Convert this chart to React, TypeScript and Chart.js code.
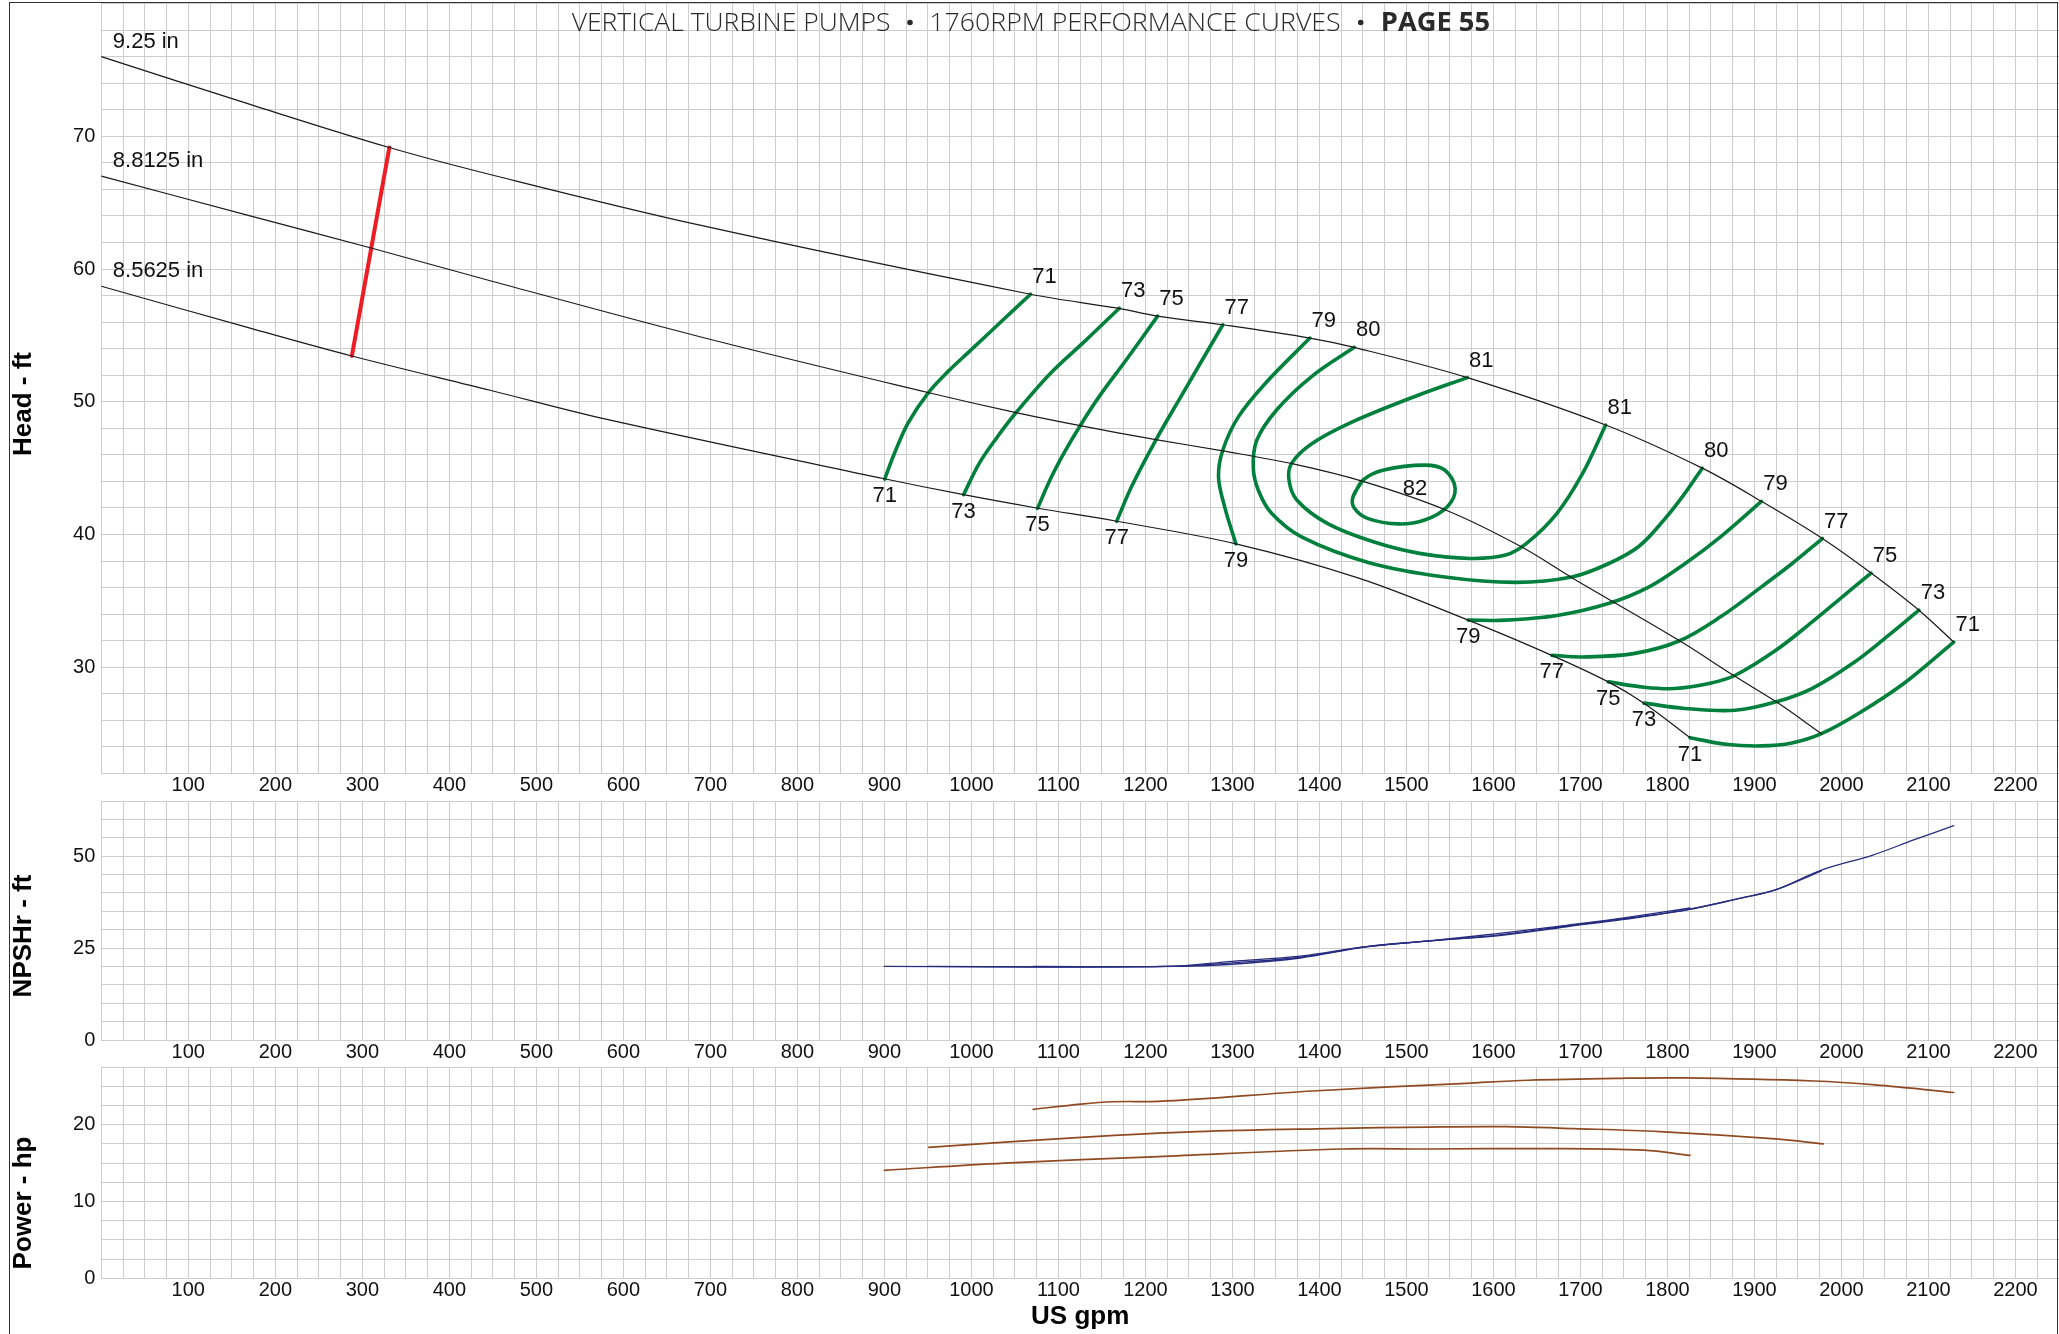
import React, { useEffect, useRef } from 'react';
import { Chart, registerables } from 'chart.js';

Chart.register(...registerables);

// ---------------- data ----------------
// impeller head curves (US gpm -> ft)
const imp925Gpm = [0, 171, 331, 448, 688, 1068, 1168, 1214, 1289, 1389, 1440, 1570, 1729, 1840, 1908, 1978, 2034, 2089, 2129];
const imp925Head = [76.0, 72.4, 69.15, 67.1, 63.3, 58.1, 57.05, 56.45, 55.8, 54.8, 54.1, 51.82, 48.25, 45.0, 42.5, 39.7, 37.1, 34.3, 31.9];
const imp88125Gpm = [0, 171, 310, 448, 688, 950, 1050, 1125, 1212, 1289, 1371, 1450, 1545, 1630, 1694, 1814, 1878, 1925, 1977];
const imp88125Head = [67.0, 64.0, 61.58, 59.1, 54.9, 50.7, 49.2, 48.2, 47.15, 46.3, 45.3, 44.0, 41.85, 39.15, 36.6, 32.0, 29.3, 27.4, 25.0];
const imp85625Gpm = [0, 171, 288, 448, 576, 900, 991, 1075, 1167, 1304, 1446, 1571, 1667, 1732, 1773, 1826];
const imp85625Head = [58.7, 55.55, 53.45, 50.85, 48.75, 44.2, 43.0, 42.0, 41.0, 39.3, 36.7, 33.55, 30.9, 28.9, 27.3, 24.7];
const impellerNames = ['9.25 in', '8.8125 in', '8.5625 in'];

// minimum flow line
const minFlowGpm = [331, 288];
const minFlowHead = [69.15, 53.45];

// iso-efficiency curves
const eff71LGpm = [900.4, 911.6, 927, 950, 973, 999, 1035, 1068];
const eff71LHead = [44.18, 46.12, 48.38, 50.64, 52.27, 53.87, 56.08, 58.1];
const eff73LGpm = [991, 1009, 1030, 1050, 1091, 1132, 1170];
const eff73LHead = [43.0, 45.36, 47.37, 49.08, 52.15, 54.66, 57.05];
const eff75LGpm = [1076, 1091, 1107, 1125, 1148, 1178.5, 1214];
const eff75LHead = [41.97, 44.2, 46.2, 48.2, 50.5, 53.2, 56.45];
const eff77LGpm = [1167, 1184, 1212, 1240, 1289];
const eff77LHead = [41.0, 43.6, 47.12, 50.3, 55.8];
const eff79LGpm = [1304, 1291, 1284, 1289, 1307, 1338, 1389];
const eff79LHead = [39.3, 42.1, 44.35, 46.37, 48.88, 51.4, 54.8];
const eff80Gpm = [1440, 1391, 1351, 1328, 1324, 1330, 1345, 1380, 1456, 1544, 1626, 1690, 1732, 1767, 1796, 1820, 1840];
const eff80Head = [54.1, 51.9, 49.4, 47.1, 45.0, 43.3, 41.6, 39.8, 37.9, 36.8, 36.4, 36.8, 37.8, 39.1, 41.1, 43.1, 45.0];
const eff81Gpm = [1570, 1509, 1438.5, 1392, 1368, 1365, 1374, 1409, 1462, 1515, 1573, 1614, 1638, 1673, 1702.5, 1729];
const eff81Head = [51.82, 50.38, 48.5, 46.87, 45.36, 44.1, 42.6, 40.84, 39.45, 38.58, 38.2, 38.45, 39.33, 41.6, 44.6, 48.25];
// closed loop: read points once round, then the first two again so the outline closes smoothly
const eff82Gpm = [1438.6, 1450, 1474, 1521, 1544, 1556, 1547, 1521, 1491, 1456, 1440, 1438.6, 1450];
const eff82Head = [42.85, 44.1, 44.86, 45.23, 44.86, 43.48, 42.1, 41.1, 40.8, 41.2, 42.0, 42.85, 44.1];
const eff79RGpm = [1571, 1614, 1673, 1732, 1779, 1820, 1861, 1908];
const eff79RHead = [33.55, 33.55, 33.9, 34.8, 36.06, 37.8, 39.83, 42.5];
const eff77RGpm = [1667, 1702.5, 1761, 1814, 1861, 1908, 1943, 1978];
const eff77RHead = [30.9, 30.78, 31.03, 32.0, 33.8, 36.06, 37.8, 39.7];
const eff75RGpm = [1732, 1773, 1808, 1849, 1878, 1925, 1966, 2001, 2034];
const eff75RHead = [28.9, 28.5, 28.4, 28.8, 29.4, 31.3, 33.4, 35.3, 37.1];
const eff73RGpm = [1773, 1820, 1878, 1925, 1966, 2013, 2054, 2089];
const eff73RHead = [27.3, 26.9, 26.76, 27.4, 28.4, 30.3, 32.4, 34.3];
const eff71RGpm = [1826, 1867, 1908, 1943, 1977, 2019, 2072, 2129];
const eff71RHead = [24.7, 24.2, 24.08, 24.3, 25.0, 26.5, 28.8, 31.9];

// NPSHr curves (ft)
const npsh85625Gpm = [900, 1224, 1300, 1378, 1454, 1531, 1607, 1684, 1750, 1826];
const npsh85625Val = [20, 20, 21.4, 22.8, 25.4, 27.1, 29.0, 31.2, 33.2, 35.9];
const npsh88125Gpm = [950, 1224, 1300, 1378, 1454, 1531, 1607, 1684, 1750, 1822, 1883, 1924, 1977];
const npsh88125Val = [20, 20, 21.0, 22.5, 25.4, 27.0, 28.6, 31.0, 33.0, 35.4, 38.5, 40.8, 46.0];
const npsh925Gpm = [1071, 1235, 1300, 1378, 1454, 1531, 1607, 1684, 1750, 1822, 1883, 1924, 1977, 2036, 2083, 2129];
const npsh925Val = [20, 20, 20.6, 22.3, 25.3, 27.0, 28.4, 30.8, 32.8, 35.4, 38.5, 40.8, 46.2, 50.3, 54.4, 58.3];

// Power curves (hp)
const pow925Gpm = [1071, 1126, 1162, 1215, 1268, 1392, 1569, 1640, 1746, 1817, 1968, 2039, 2129];
const pow925Val = [22.0, 22.7, 23.0, 23.05, 23.4, 24.4, 25.4, 25.8, 26.05, 26.1, 25.7, 25.2, 24.2];
const pow88125Gpm = [951, 1126, 1259, 1411, 1525, 1614, 1693, 1791, 1924, 1979];
const pow88125Val = [17.06, 18.36, 19.1, 19.5, 19.7, 19.75, 19.5, 19.1, 18.15, 17.5];
const pow85625Gpm = [900, 1038, 1215, 1427, 1525, 1658, 1773, 1826];
const pow85625Val = [14.06, 15.0, 15.85, 16.84, 16.84, 16.9, 16.7, 16.0];

const titleParts = ['VERTICAL TURBINE PUMPS', '1760RPM PERFORMANCE CURVES', 'PAGE 55'];
const xAxisTitle = 'US gpm';
const headTitle = 'Head - ft';
const npshTitle = 'NPSHr - ft';
const powerTitle = 'Power - hp';

// ---------------- style / layout ----------------
const W = 2059;
const H = 1334;
const PLOT_LEFT = 101.3;
const FONT = "'Liberation Sans', Arial, Helvetica, sans-serif";
const GRID = '#cdcdcd';
const GREEN = '#00803c';

const pts = (xs: number[], ys: number[]) => xs.map((x, i) => ({ x, y: ys[i] }));

const effCurves = [
  { label: '71', gpm: eff71LGpm, head: eff71LHead },
  { label: '73', gpm: eff73LGpm, head: eff73LHead },
  { label: '75', gpm: eff75LGpm, head: eff75LHead },
  { label: '77', gpm: eff77LGpm, head: eff77LHead },
  { label: '79', gpm: eff79LGpm, head: eff79LHead },
  { label: '80', gpm: eff80Gpm, head: eff80Head },
  { label: '81', gpm: eff81Gpm, head: eff81Head },
  { label: '82', gpm: eff82Gpm, head: eff82Head, loop: true },
  { label: '79', gpm: eff79RGpm, head: eff79RHead },
  { label: '77', gpm: eff77RGpm, head: eff77RHead },
  { label: '75', gpm: eff75RGpm, head: eff75RHead },
  { label: '73', gpm: eff73RGpm, head: eff73RHead },
  { label: '71', gpm: eff71RGpm, head: eff71RHead },
];

function interp(xs: number[], ys: number[], x: number) {
  for (let i = 0; i < xs.length - 1; i++) {
    if (x >= xs[i] && x <= xs[i + 1]) {
      const t = (x - xs[i]) / (xs[i + 1] - xs[i]);
      return ys[i] + t * (ys[i + 1] - ys[i]);
    }
  }
  return x < xs[0] ? ys[0] : ys[ys.length - 1];
}

const near = (v: number, m: number) => Math.abs(v / m - Math.round(v / m)) < 1e-6;

function baseOptions(o: {
  ymin: number; ymax: number; ystep: number; ylab: (v: number) => string;
  padTop: number; xh: number; xTitle?: string;
}) {
  return {
    responsive: false,
    animation: false as const,
    events: [] as any[],
    layout: { padding: { top: o.padTop, left: 0, right: 0, bottom: 0 } },
    plugins: { legend: { display: false }, tooltip: { enabled: false }, title: { display: false } },
    elements: { point: { radius: 0 } },
    scales: {
      x: {
        type: 'linear' as const,
        position: 'bottom' as const,
        min: 0,
        max: 2250,
        ticks: {
          stepSize: 25,
          autoSkip: false,
          maxTicksLimit: 1000,
          maxRotation: 0,
          minRotation: 0,
          padding: 0,
          color: '#111',
          font: { family: FONT, size: 20 },
          callback: (v: any) => {
            const n = Number(v);
            return near(n, 100) && n > 0 && n <= 2200 ? String(Math.round(n)) : '';
          },
        },
        grid: { color: GRID, lineWidth: 1, drawTicks: false },
        border: { display: false },
        title: o.xTitle
          ? { display: true, text: o.xTitle, color: '#000', font: { family: FONT, size: 26, weight: 'bold' as const }, padding: { top: 0, bottom: 1.4 } }
          : { display: false },
        afterFit: (s: any) => {
          s.height = o.xh;
          s.paddingLeft = 0; s.paddingRight = 0; s.paddingTop = 0; s.paddingBottom = 0;
        },
      },
      y: {
        type: 'linear' as const,
        position: 'left' as const,
        min: o.ymin,
        max: o.ymax,
        ticks: {
          stepSize: o.ystep,
          autoSkip: false,
          maxTicksLimit: 1000,
          padding: 6,
          color: '#111',
          font: { family: FONT, size: 20 },
          callback: (v: any) => o.ylab(Number(v)),
        },
        grid: { color: GRID, lineWidth: 1, drawTicks: false },
        border: { display: false },
        afterFit: (s: any) => {
          s.width = PLOT_LEFT;
          s.paddingLeft = 0; s.paddingRight = 0; s.paddingTop = 0; s.paddingBottom = 0;
        },
      },
    },
  };
}

function drawYTitle(ctx: CanvasRenderingContext2D, text: string, x: number, y: number) {
  ctx.save();
  ctx.translate(x, y);
  ctx.rotate(-Math.PI / 2);
  ctx.font = `bold 26px ${FONT}`;
  ctx.fillStyle = '#000';
  ctx.textAlign = 'center';
  ctx.textBaseline = 'middle';
  ctx.fillText(text, 0, 0);
  ctx.restore();
}

function fitText(ctx: CanvasRenderingContext2D, text: string, x0: number, x1: number, base: number, font: string) {
  ctx.save();
  ctx.font = font;
  const w = ctx.measureText(text).width;
  ctx.translate(x0, base);
  ctx.scale((x1 - x0) / w, 1);
  ctx.textAlign = 'left';
  ctx.textBaseline = 'alphabetic';
  ctx.fillText(text, 0, 0);
  ctx.restore();
}

const headPlugin = {
  id: 'headDecor',
  afterDatasetsDraw(chart: any) {
    const { ctx, scales } = chart;
    const xs = scales.x, ys = scales.y;
    ctx.save();
    ctx.fillStyle = '#111';
    ctx.font = `22px ${FONT}`;
    ctx.textAlign = 'center';
    ctx.textBaseline = 'middle';
    for (const c of effCurves) {
      if ((c as any).loop) {
        const gx = (Math.min(...c.gpm) + Math.max(...c.gpm)) / 2;
        const gy = (Math.min(...c.head) + Math.max(...c.head)) / 2;
        ctx.fillText(c.label, xs.getPixelForValue(gx) + 11, ys.getPixelForValue(gy) - 6);
        continue;
      }
      for (const idx of [0, c.gpm.length - 1]) {
        const g = c.gpm[idx], h = c.head[idx];
        const onTop = Math.abs(h - interp(imp925Gpm, imp925Head, g)) < 0.8;
        const px = xs.getPixelForValue(g), py = ys.getPixelForValue(h);
        if (onTop) ctx.fillText(c.label, px + 14, py - 17);
        else ctx.fillText(c.label, px, py + 17);
      }
    }
    // impeller names
    ctx.textAlign = 'left';
    const starts = [imp925Head[0], imp88125Head[0], imp85625Head[0]];
    impellerNames.forEach((n, i) => {
      ctx.fillText(n, xs.getPixelForValue(0) + 11.5, ys.getPixelForValue(starts[i]) - 15);
    });
    // page title
    ctx.fillStyle = '#2a2a2a';
    fitText(ctx, titleParts[0], 571.7, 890.5, 30.5, `300 26px 'Open Sans', sans-serif`);
    fitText(ctx, titleParts[1], 929.3, 1340.6, 30.5, `300 26px 'Open Sans', sans-serif`);
    fitText(ctx, titleParts[2], 1380.8, 1490, 30.5, `bold 26px 'Open Sans', sans-serif`);
    ctx.beginPath();
    ctx.arc(910, 22.5, 2.8, 0, Math.PI * 2);
    ctx.arc(1360.7, 22.5, 2.8, 0, Math.PI * 2);
    ctx.fill();
    ctx.restore();
    drawYTitle(ctx, headTitle, 24, 404);
  },
};

const npshPlugin = {
  id: 'npshDecor',
  afterDraw(chart: any) { drawYTitle(chart.ctx, npshTitle, 24, 146); },
};
const powerPlugin = {
  id: 'powerDecor',
  afterDraw(chart: any) { drawYTitle(chart.ctx, powerTitle, 24, 143); },
};

const lineDs = (data: any[], color: string, width: number, tension = 0.35) => ({
  data,
  showLine: true,
  borderColor: color,
  backgroundColor: color,
  borderWidth: width,
  pointRadius: 0,
  tension,
  fill: false,
  borderCapStyle: 'round' as const,
  borderJoinStyle: 'round' as const,
});

function headConfig(): any {
  const datasets: any[] = [
    lineDs(pts(imp925Gpm, imp925Head), '#1a1a1a', 1.2),
    lineDs(pts(imp88125Gpm, imp88125Head), '#1a1a1a', 1.2),
    lineDs(pts(imp85625Gpm, imp85625Head), '#1a1a1a', 1.2),
    lineDs(pts(minFlowGpm, minFlowHead), '#ee1c25', 4, 0),
    ...effCurves.map((c) => lineDs(pts(c.gpm, c.head), GREEN, 3.6, 0.35)),
  ];
  return {
    type: 'scatter',
    data: { datasets },
    options: baseOptions({
      ymin: 22, ymax: 80, ystep: 2,
      ylab: (v) => (near(v, 10) && v < 80 ? String(Math.round(v)) : ''),
      padTop: 3.5, xh: 26.5,
    }),
    plugins: [headPlugin],
  };
}

function npshConfig(): any {
  const c = '#262c7e';
  return {
    type: 'scatter',
    data: {
      datasets: [
        lineDs(pts(npsh85625Gpm, npsh85625Val), c, 1.3),
        lineDs(pts(npsh88125Gpm, npsh88125Val), c, 1.3),
        lineDs(pts(npsh925Gpm, npsh925Val), c, 1.3),
      ],
    },
    options: baseOptions({
      ymin: 0, ymax: 65, ystep: 5,
      ylab: (v) => (near(v, 25) && v < 65 ? String(Math.round(v)) : ''),
      padTop: 11, xh: 27,
    }),
    plugins: [npshPlugin],
  };
}

function powerConfig(): any {
  const c = '#8f4a22';
  return {
    type: 'scatter',
    data: {
      datasets: [
        lineDs(pts(pow925Gpm, pow925Val), c, 1.7),
        lineDs(pts(pow88125Gpm, pow88125Val), c, 1.7),
        lineDs(pts(pow85625Gpm, pow85625Val), c, 1.7),
      ],
    },
    options: baseOptions({
      ymin: 0, ymax: 27.5, ystep: 2.5,
      ylab: (v) => (near(v, 10) && v <= 20 ? String(Math.round(v)) : ''),
      padTop: 7.2, xh: 55.8, xTitle: xAxisTitle,
    }),
    plugins: [powerPlugin],
  };
}

export default function App() {
  const headRef = useRef<HTMLCanvasElement>(null);
  const npshRef = useRef<HTMLCanvasElement>(null);
  const powerRef = useRef<HTMLCanvasElement>(null);

  useEffect(() => {
    document.body.style.margin = '0';
    document.body.style.overflow = 'hidden';
    const charts = [
      new Chart(headRef.current as HTMLCanvasElement, headConfig()),
      new Chart(npshRef.current as HTMLCanvasElement, npshConfig()),
      new Chart(powerRef.current as HTMLCanvasElement, powerConfig()),
    ];
    return () => charts.forEach((ch) => ch.destroy());
  }, []);

  return (
    <div style={{ position: 'absolute', left: 0, top: 0, width: W, height: H, overflow: 'hidden', background: '#fff' }}>
      <canvas ref={headRef} width={W} height={800} style={{ position: 'absolute', left: 0, top: 0, width: W, height: 800 }} />
      <canvas ref={npshRef} width={W} height={277} style={{ position: 'absolute', left: 0, top: 790, width: W, height: 277 }} />
      <canvas ref={powerRef} width={W} height={274} style={{ position: 'absolute', left: 0, top: 1060, width: W, height: 274 }} />
      <div
        style={{
          position: 'absolute', left: 8.5, top: 1.5, width: W - 8.5 - 1.5, height: H + 10,
          borderLeft: '1.5px solid #333', borderTop: '1.5px solid #333', borderRight: '1.5px solid #333',
          boxSizing: 'border-box', pointerEvents: 'none',
        }}
      />
    </div>
  );
}
